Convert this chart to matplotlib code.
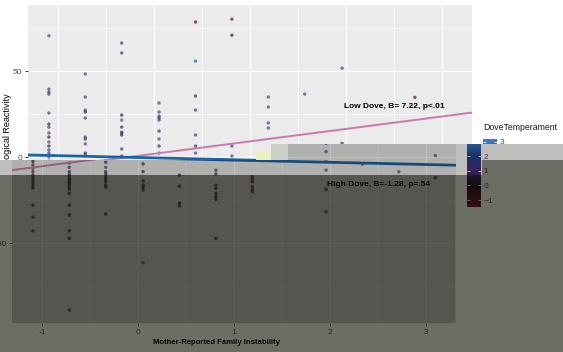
import numpy as np
import matplotlib
matplotlib.use("Agg")
import matplotlib.pyplot as plt
from matplotlib.colors import LinearSegmentedColormap, Normalize
from matplotlib.cm import ScalarMappable
from matplotlib.patches import Polygon
from matplotlib.text import Text
from matplotlib.transforms import Bbox, TransformedBbox

plt.rcParams['font.family'] = ['Liberation Sans', 'DejaVu Sans']

W, H = 563, 352

# --- data ----------------------------------------------------------------
instability_levels = [-1.10, -0.72, -0.34, 0.05, 0.43, 0.81, 1.19, 1.57, 1.96, 2.34, 2.72, 3.10]

reactivity_by_level = [
    [70.5, 39.5, 37.8, 36.6, 25.6, 19.2, 17.4, 14.0, 11.6, 8.7, 6.4, 4.1, 2.3, 0.0,
     -2.5, -4.5, -6.5, -8.5, -10.5, -12.0, -13.5, -15.0, -16.5, -18.0, -27.9, -34.9, -43.0],
    [48.3, 34.9, 27.3, 26.2, 22.7, 11.6, 10.5, 7.6, 2.3, 1.2,
     -3.5, -6.0, -8.5, -9.9, -11.0, -12.4, -13.4, -14.4, -15.3, -16.3, -17.6, -18.8,
     -21.1, -27.9, -33.7, -43.0, -47.3, -89.0],
    [66.3, 60.5, 24.4, 21.5, 17.4, 14.5, 14.0, 12.8, 4.7, 0.6,
     -3.0, -6.0, -8.5, -9.9, -11.5, -13.0, -14.4, -16.3, -17.6, -33.1],
    [31.4, 26.2, 23.8, 22.7, 21.5, 15.1, 10.5, 6.4, 2.3,
     -4.0, -8.5, -13.8, -16.3, -17.6, -19.2, -61.5],
    [78.5, 55.8, 35.5, 27.3, 12.8, 6.4, 2.3, -10.5, -16.9, -26.9, -28.5],
    [80.2, 70.9, 6.4, 0.6, -7.6, -9.9, -16.3, -18.2, -21.1, -23.1, -24.6, -47.3],
    [34.9, 29.1, 19.8, 16.9, -11.5, -13.0, -14.4, -17.3, -18.8, -20.2],
    [36.6],
    [51.7, 8.0, 3.1, -2.7, -7.6, -18.8, -31.8],
    [-4.2],
    [34.7, -8.5],
    [0.8, -12.0],
]

dove_by_level = [
    [1.0, 1.2, 0.8, 1.0, 1.3, 0.2, 0.9, 1.1, -0.5, 1.0, 0.3, 1.4, 0.8, 1.0,
     0.0, -0.8, 0.5, -0.3, 0.0, 0.6, -1.0, 0.2, -0.5, 0.0, 0.1, -0.4, 0.0],
    [1.1, 0.9, 1.2, 0.4, 1.0, 1.3, 0.7, 1.0, 0.5, 1.4,
     0.8, 0.5, -0.6, 1.0, -0.9, 0.3, 0.0, 1.2, -0.2, 0.6, -1.0, 0.4,
     0.0, -0.8, 0.1, -0.3, 0.0, 0.0],
    [1.0, 1.1, 0.3, 1.2, 0.6, 1.0, 1.5, 0.4, 1.0, 0.8,
     0.5, 0.9, -0.7, 0.3, 0.8, -0.5, 0.2, 0.6, -0.9, 0.0],
    [1.2, 1.0, 1.3, 0.7, 1.1, 0.5, 1.0, 0.6, 1.2,
     0.4, -0.6, 0.3, -0.4, 0.0, 0.5, 2.5],
    [-0.6, 2.2, 0.4, 2.0, 1.0, 0.8, 1.1, 0.5, 0.0, -0.6, 0.3],
    [-0.8, -0.4, 1.0, 1.2, 0.6, 0.2, -0.7, -0.8, -0.9, -0.6, -0.8, 0.0],
    [1.0, 1.2, 1.4, 1.1, -1.0, -0.9, -1.1, -0.8, -1.0, -0.9],
    [1.0],
    [1.3, 0.8, 1.2, 1.0, 1.1, 0.3, 2.0],
    [1.0],
    [-0.5, 1.0],
    [1.2, 0.2],
]

low_dove = (1.9, 7.22)      # intercept, slope
high_dove = (-0.5, -1.28)
low_label = 'Low Dove, B= 7.22, p<.01'
high_label = 'High Dove, B=-1.28, p=.54'
x_title = 'Mother-Reported Family Instability'
y_title = 'Physiological Reactivity'
legend_title = 'DoveTemperament'

x_ticks = [-1, 0, 1, 2, 3]
x_minor = [-0.5, 0.5, 1.5, 2.5]
y_ticks = [-50, 0, 50]
y_minor = [-75, -25, 25, 75]
dove_ticks = [-1, 0, 1, 2, 3]
dove_range = (-1.48, 3.2)

x = np.concatenate([[lv] * len(r) for lv, r in zip(instability_levels, reactivity_by_level)])
y = np.concatenate(reactivity_by_level)
c = np.concatenate(dove_by_level)

cmap = LinearSegmentedColormap.from_list('dove', [
    (0.0, '#7c1237'), (0.103, '#5e0d2b'), (0.316, '#1c0c24'),
    (0.53, '#4b2d7c'), (0.744, '#1f3f8c'), (1.0, '#3a82cc')])
norm = Normalize(*dove_range)


def fx(px):
    return px / W


def fy(py):
    return 1 - py / H


def draw_copy(fig, dx, z):
    # one full copy of the ggplot chart, shifted dx pixels sideways
    ax = fig.add_axes([fx(28 + dx), fy(323), 444 / W, 318 / H], zorder=z)
    ax.set_facecolor('#ebebeb')
    for s in ax.spines.values():
        s.set_visible(False)
    ax.set_xlim(-1.318, 3.316)
    ax.set_ylim(-96.5, 88.4)
    ax.set_xticks(x_ticks)
    ax.set_xticks(x_minor, minor=True)
    ax.set_yticks(y_ticks)
    ax.set_yticks(y_minor, minor=True)
    ax.set_xticklabels([str(t) for t in x_ticks])
    ax.set_yticklabels([str(t) for t in y_ticks])
    ax.set_axisbelow(True)
    ax.grid(which='major', color='white', lw=0.9)
    ax.grid(which='minor', color='white', lw=0.45)
    ax.tick_params(which='major', labelsize=6, labelcolor='#4d4d4d', color='#333333',
                   length=2.5, width=0.6, pad=1.5)
    ax.tick_params(which='minor', length=0)

    ax.scatter(x, y, c=c, cmap=cmap, norm=norm, s=6, alpha=0.65, linewidths=0)
    ax.axline((0, low_dove[0]), slope=low_dove[1], color='#c97aab', lw=1.4)
    ax.axline((0, high_dove[0]), slope=high_dove[1], color='#1b63a9', lw=2.0)

    ax.text(1.977, 29.1, low_label, fontsize=6, fontweight='bold', va='center')
    ax.text(1.967, -15.7, high_label, fontsize=6, fontweight='bold', va='center')
    ax.text(fx(7.5 + dx), fy(93), y_title, transform=fig.transFigure,
            rotation=90, ha='center', va='top', fontsize=6.5)
    ax.text(fx(232 + dx), fy(342), x_title, transform=fig.transFigure,
            ha='center', va='center', fontsize=5.6, fontweight='bold')

    cax = fig.add_axes([fx(483 + dx), fy(207), 14 / W, 68 / H], zorder=z)
    cb = fig.colorbar(ScalarMappable(norm=norm, cmap=cmap), cax=cax, ticks=dove_ticks)
    cb.outline.set_visible(False)
    cax.tick_params(length=0, labelsize=6, labelcolor='#4d4d4d', pad=2)
    cax.hlines(dove_ticks, 0, 0.2, color='white', lw=0.6)
    cax.hlines(dove_ticks, 0.8, 1, color='white', lw=0.6)
    cax.set_xlim(0, 1)
    cax.set_ylim(*dove_range)
    cax.text(fx(483 + dx), fy(128), legend_title, transform=fig.transFigure,
             va='center', fontsize=6.3, color='#1a1a1a')
    return [ax, cax]


def px_poly(pts, **kw):
    return Polygon([(fx(a), fy(b)) for a, b in pts], closed=True, **kw)


fig = plt.figure(figsize=(W / 100, H / 100), dpi=100)

# lower (shifted, dimmed) layer
draw_copy(fig, -16, 1)

light = px_poly([(0, 160), (271, 160), (271, 144), (563, 144), (563, 160),
                 (482, 160), (482, 175), (0, 175)],
                transform=fig.transFigure, facecolor='#0a0d00', alpha=0.26,
                edgecolor='none', zorder=2)
dark = px_poly([(0, 175), (482, 175), (482, 160), (563, 160), (563, 352), (0, 352)],
               transform=fig.transFigure, facecolor='#0a0d00', alpha=0.6,
               edgecolor='none', zorder=2)
dark_panel = px_poly([(12, 175), (455, 175), (455, 323), (12, 323)],
                     transform=fig.transFigure, facecolor='black', alpha=0.15,
                     edgecolor='none', zorder=2)
for p in (light, dark, dark_panel):
    fig.add_artist(p)

# upper layer, clipped to the top region
upper_pts = [(0, 0), (563, 0), (563, 144), (271, 144), (271, 160), (0, 160)]
fig.add_artist(px_poly(upper_pts, transform=fig.transFigure, facecolor='white',
                       edgecolor='none', zorder=3))
top_axes = draw_copy(fig, 0, 4)

# small screen artefacts
fig.add_artist(px_poly([(256, 151), (271, 151), (271, 160), (256, 160)],
                       transform=fig.transFigure, facecolor='#efefc4',
                       edgecolor='none', zorder=5))
fig.add_artist(px_poly([(271, 144), (288, 144), (288, 160), (271, 160)],
                       transform=fig.transFigure, facecolor='#cfcfc9',
                       edgecolor='none', zorder=5))

fig.canvas.draw()
renderer = fig.canvas.get_renderer()
clip = px_poly(upper_pts, transform=fig.transFigure)
# Agg clips text only by rectangles: split the top region in two boxes
box_left = TransformedBbox(Bbox.from_extents(0, fy(160), fx(271), 1), fig.transFigure)
box_right = TransformedBbox(Bbox.from_extents(fx(271), fy(144), 1, 1), fig.transFigure)
split_x = fx(271) * fig.bbox.width
for a in top_axes:
    for art in a.findobj():
        if art is a:
            continue
        if isinstance(art, Text):
            bb = art.get_window_extent(renderer)
            art.set_clip_path(None)
            art.set_clip_box(box_left if (bb.x0 + bb.x1) / 2 < split_x else box_right)
            art.set_clip_on(True)
        else:
            art.set_clip_path(clip)

fig.savefig('out.png', dpi=100)
